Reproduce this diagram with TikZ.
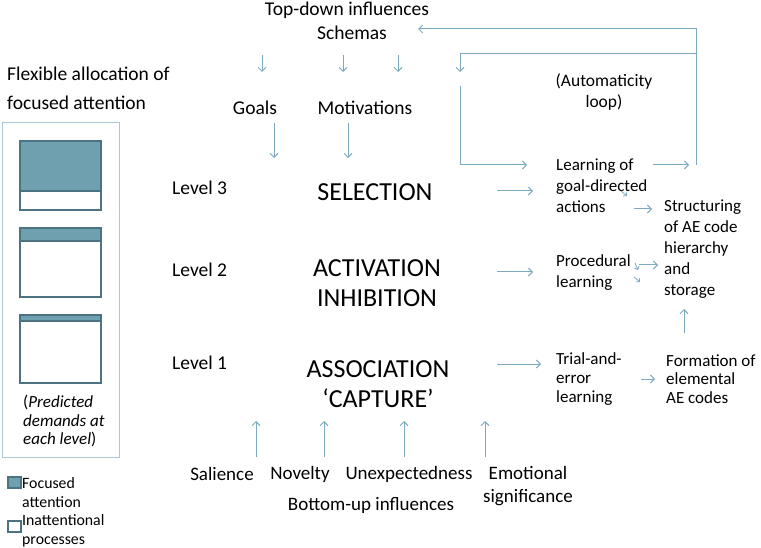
\documentclass[tikz,border=0pt]{standalone}
\usepackage{fontspec}
\setmainfont{Carlito}
\usetikzlibrary{arrows.meta}
\definecolor{arrc}{HTML}{7DAABE}
\definecolor{barf}{HTML}{6FA0AF}
\definecolor{bord}{HTML}{4B7382}
\definecolor{outerc}{HTML}{A9C8D4}
\begin{document}
\begin{tikzpicture}[x=1pt,y=-1pt,
  arr/.style={draw=arrc,line width=1pt,-{Straight Barb[length=4pt,width=8pt]}},
  tinyarr/.style={draw=arrc,line width=0.8pt,-{Straight Barb[length=2.5pt,width=5pt]}},
  txt/.style={inner sep=0pt,font=\fontsize{17}{21}\selectfont},
  mid/.style={inner sep=0pt,font=\fontsize{19.5}{23}\selectfont},
  big/.style={inner sep=0pt,font=\fontsize{26}{30}\selectfont,align=center},
  barbox/.style={draw=bord,line width=1.6pt},
  outerbox/.style={draw=outerc,line width=1pt}]
\useasboundingbox (0,0) rectangle (761,548);
% top
\node[mid] (td) at (347,10) {Top-down influences};
\node[mid] (sch) at (352,33) {Schemas};
\node[mid] (goals) at (255,108) {Goals};
\node[mid] (mot) at (365,108) {Motivations};
\node[txt,font=\fontsize{17.5}{21}\selectfont,align=center] (auto) at (604,92) {(Automaticity\\loop)};
% levels
\node[mid,anchor=west] (l3) at (172,188) {Level 3};
\node[mid,anchor=west] (l2) at (172,270) {Level 2};
\node[mid,anchor=west] (l1) at (172,363) {Level 1};
\node[big] (sel) at (375,192) {SELECTION};
\node[big] (act) at (377,283) {ACTIVATION\\INHIBITION};
\node[big] (assoc) at (378,384) {ASSOCIATION\\‘CAPTURE’};
% right column
\node[txt,align=left,anchor=west] (learn) at (556,186) {Learning of\\goal-directed\\actions};
\node[txt,align=left,anchor=west] (struct) at (664,249) {Structuring\\of AE code\\hierarchy\\and\\storage};
\node[txt,align=left,anchor=west] (proc) at (556,273) {Procedural\\learning};
\node[txt,align=left,anchor=west,font=\fontsize{17}{18.7}\selectfont] (trial) at (556,379) {Trial-and-\\error\\learning};
\node[txt,align=left,anchor=west,font=\fontsize{17}{18.7}\selectfont] (form) at (666,379) {Formation of\\elemental\\AE codes};
% bottom
\node[mid,font=\fontsize{19}{23}\selectfont] (sal) at (222,474) {Salience};
\node[mid,font=\fontsize{19}{23}\selectfont] (nov) at (300,474) {Novelty};
\node[mid,font=\fontsize{19}{23}\selectfont] (unexp) at (409,474) {Unexpectedness};
\node[mid,font=\fontsize{19}{23}\selectfont,align=center] (emo) at (528,486) {Emotional\\significance};
\node[mid,font=\fontsize{19}{23}\selectfont] (bu) at (371,505) {Bottom-up influences};
% left panel
\node[inner sep=0pt,anchor=west,align=left,font=\fontsize{19.5}{29}\selectfont] (flex) at (7,88) {Flexible allocation of\\focused attention};
\draw[outerbox] (2,123) rectangle (119,457);
\fill[barf] (20,141) rectangle (101,191);
\draw[barbox] (20,141) rectangle (101,210);
\draw[barbox] (20,191) -- (101,191);
\fill[barf] (20,228) rectangle (101,241);
\draw[barbox] (20,228) rectangle (101,297);
\draw[barbox] (20,241) -- (101,241);
\fill[barf] (20,315) rectangle (101,321);
\draw[barbox] (20,315) rectangle (101,383);
\draw[barbox] (20,321) -- (101,321);
\node[txt,anchor=west,align=left,font=\fontsize{17}{18.5}\selectfont] (pred) at (23,421) {(\textit{Predicted}\\\textit{demands at}\\\textit{each level})};
% legend
\draw[barbox,fill=barf] (8,477) rectangle (21,488);
\draw[barbox,fill=white] (8,521) rectangle (21,532);
\node[txt,anchor=west,align=left,font=\fontsize{15.8}{19}\selectfont] (lfoc) at (22,492.5) {Focused\\attention};
\node[txt,anchor=west,align=left,font=\fontsize{15.8}{19}\selectfont] (linat) at (22,531) {Inattentional\\processes};
% loop
\coordinate (lpA) at (696,165);
\coordinate (lpB) at (696,29);
\coordinate (lpC) at (418,29);
\coordinate (lpD) at (696,54);
\coordinate (lpE) at (460,54);
\coordinate (lpF) at (460,72);
\coordinate (lpG) at (460,86);
\coordinate (lpH) at (460,165);
\coordinate (lpI) at (527,165);
\draw[arr] (lpA) -- (lpB) -- (lpC);
\draw[arr] (lpD) -- (lpE) -- (lpF);
\draw[arr] (lpG) -- (lpH) -- (lpI);
% top-down arrows
\draw[arr] (262,55) -- (262,72);
\draw[arr] (343,55) -- (343,72);
\draw[arr] (398,55) -- (398,72);
\draw[arr] (274,123) -- (274,158);
\draw[arr] (348,123) -- (348,158);
% right arrows
\draw[arr] (653,165) -- (689,165);
\draw[arr] (497,191) -- (533,191);
\draw[arr] (634,209) -- (652,209);
\draw[arr] (497,272) -- (533,272);
\draw[arr] (639,265) -- (658,265);
\draw[arr] (497,364) -- (541,364);
\draw[arr] (641,379) -- (655,379);
\draw[arr] (684,333) -- (684,309);
\draw[tinyarr] (621,191) -- (627,196);
\draw[tinyarr] (635,263) -- (638,270);
\draw[tinyarr] (634,277) -- (640,282);
% bottom-up arrows
\draw[arr] (256,457) -- (256,421);
\draw[arr] (324,457) -- (324,421);
\draw[arr] (404,457) -- (404,421);
\draw[arr] (485,457) -- (485,421);
\end{tikzpicture}
\end{document}
